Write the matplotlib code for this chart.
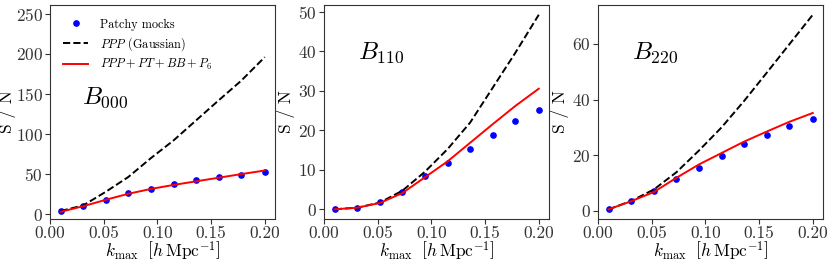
import matplotlib
matplotlib.use('Agg')
import matplotlib.pyplot as plt

plt.rcParams['font.family'] = 'serif'
plt.rcParams['font.serif'] = ['cmr10']
plt.rcParams['mathtext.fontset'] = 'cm'
plt.rcParams['axes.formatter.use_mathtext'] = True
plt.rcParams['axes.unicode_minus'] = False

# k_max values (h/Mpc)
kmax = [0.010, 0.031, 0.052, 0.073, 0.094, 0.115, 0.136, 0.157, 0.178, 0.200]

# B000
mocks_000 = [4.0, 10.0, 18.0, 26.0, 32.0, 37.5, 43.0, 46.0, 49.5, 52.5]
gauss_000 = [4.0, 11.0, 28.0, 46.5, 70.0, 92.0, 117.0, 142.0, 166.5, 196.0]
full_000 = [3.0, 10.0, 18.0, 25.5, 31.5, 36.5, 41.0, 45.5, 50.0, 54.5]

# B110
mocks_110 = [0.1, 0.4, 1.8, 4.3, 8.3, 11.7, 15.3, 18.8, 22.2, 25.1]
gauss_110 = [0.0, 0.4, 1.7, 4.7, 9.5, 15.2, 21.9, 30.7, 39.5, 49.2]
full_110 = [0.0, 0.4, 1.6, 4.1, 8.1, 12.1, 16.8, 21.5, 26.1, 30.5]

# B220
mocks_220 = [0.8, 3.7, 7.0, 11.5, 15.5, 19.6, 23.9, 27.3, 30.4, 33.2]
gauss_220 = [0.6, 3.6, 7.7, 13.9, 21.7, 30.0, 39.5, 49.6, 59.8, 70.5]
full_220 = [0.6, 3.5, 6.8, 11.9, 16.7, 20.8, 24.9, 28.5, 32.0, 35.2]

names = [r'$B_{000}$', r'$B_{110}$', r'$B_{220}$']
mocks = [mocks_000, mocks_110, mocks_220]
gauss = [gauss_000, gauss_110, gauss_220]
full = [full_000, full_110, full_220]
name_pos = [(0.14, 0.54), (0.15, 0.75), (0.15, 0.75)]
ylabel_x = [-0.15, -0.13, -0.13]

fig = plt.figure(figsize=(8.3, 2.65), dpi=100)
lefts = [50, 324, 598]
axes = []
for i in range(3):
    ax = fig.add_axes([lefts[i] / 830, 46 / 265, 225 / 830, 214 / 265])
    axes.append(ax)
    ax.plot(kmax, mocks[i], 'o', color='blue', ms=3.8, label='Patchy mocks')
    ax.plot(kmax, gauss[i], '--', color='black', lw=1.4, label=r'$PPP$ (Gaussian)')
    ax.plot(kmax, full[i], '-', color='red', lw=1.4, label=r'$PPP + PT + BB + P_6$')
    ax.text(name_pos[i][0], name_pos[i][1], names[i], transform=ax.transAxes,
            fontsize=18, color='black')
    ax.set_xticks([0.0, 0.05, 0.10, 0.15, 0.20])
    ax.set_xticklabels(['0.00', '0.05', '0.10', '0.15', '0.20'])
    ax.set_xlabel(r'$k_{\rm max}\ \ \left[h\,{\rm Mpc}^{-1}\right]$', fontsize=12.5, labelpad=-1)
    ax.set_ylabel('S / N', fontsize=12.5)
    ax.yaxis.set_label_coords(ylabel_x[i], 0.5)
    ax.tick_params(labelsize=12.5, colors='#333333', length=3.5, pad=1.5)
    for s in ax.spines.values():
        s.set_color('#333333')

axes[0].set_ylim(-6, 261)
axes[0].set_yticks([0, 50, 100, 150, 200, 250])
axes[1].set_yticks([0, 10, 20, 30, 40, 50])
axes[2].set_yticks([0, 20, 40, 60])
axes[0].legend(loc='upper left', frameon=False, fontsize=8.8, numpoints=1,
               borderaxespad=0.7, handletextpad=1.0, labelspacing=0.35)

plt.savefig('out.png', dpi=100)
